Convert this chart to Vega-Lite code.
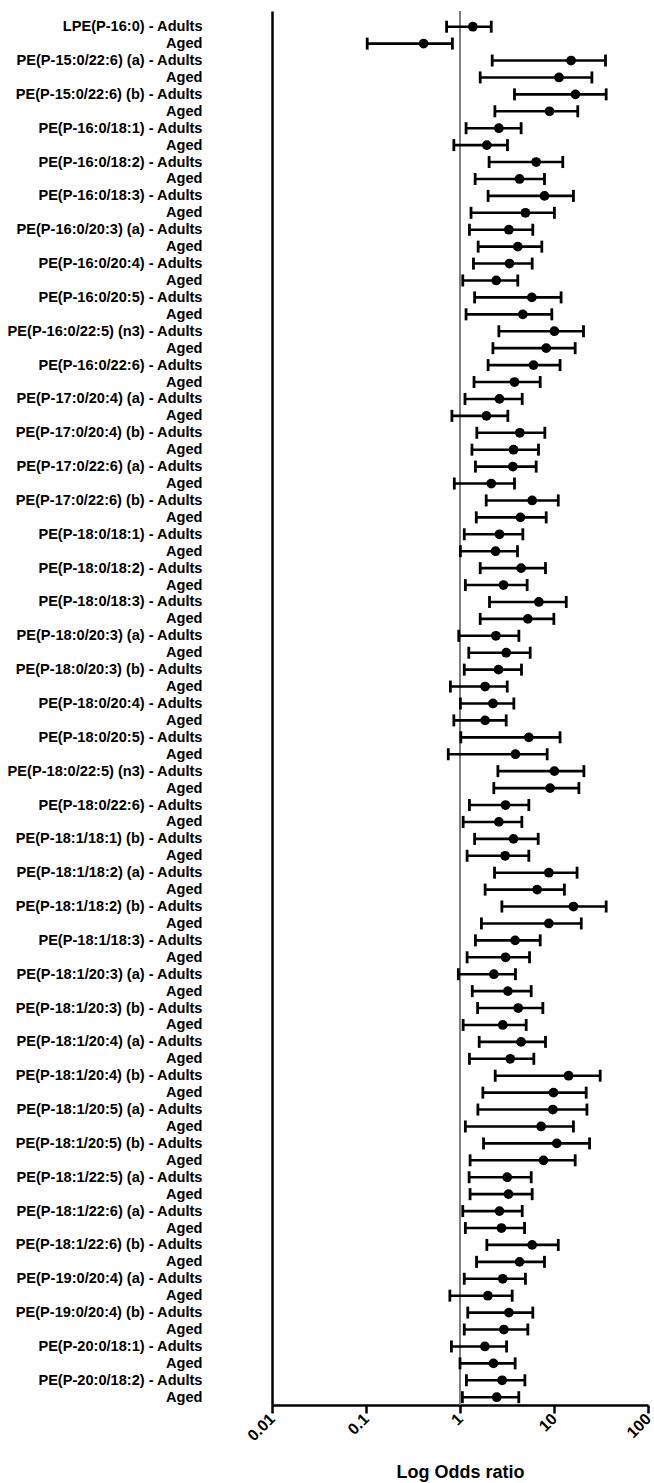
{
  "$schema": "https://vega.github.io/schema/vega-lite/v6.json",
  "autosize": "none",
  "padding": {"left": 272, "top": 11, "right": 6, "bottom": 78},
  "width": 376,
  "height": 1394,
  "background": "white",
  "config": {
    "view": {"stroke": null},
    "axis": {
      "domainColor": "black",
      "domainWidth": 2.5,
      "labelFont": "Liberation Sans",
      "labelFontWeight": "bold",
      "labelColor": "black",
      "titleFont": "Liberation Sans",
      "titleFontWeight": "bold",
      "titleColor": "black",
      "grid": false
    }
  },
  "data": {
    "values": [
      {"row": "LPE(P-16:0) - Adults", "or": 1.37, "lo": 0.72, "hi": 2.15},
      {"row": "LPE(P-16:0) - Aged", "or": 0.41, "lo": 0.103, "hi": 0.83},
      {"row": "PE(P-15:0/22:6) (a) - Adults", "or": 15.2, "lo": 2.2, "hi": 35.3},
      {"row": "PE(P-15:0/22:6) (a) - Aged", "or": 11.3, "lo": 1.64, "hi": 25.3},
      {"row": "PE(P-15:0/22:6) (b) - Adults", "or": 16.9, "lo": 3.8, "hi": 35.9},
      {"row": "PE(P-15:0/22:6) (b) - Aged", "or": 8.96, "lo": 2.35, "hi": 17.9},
      {"row": "PE(P-16:0/18:1) - Adults", "or": 2.59, "lo": 1.16, "hi": 4.47},
      {"row": "PE(P-16:0/18:1) - Aged", "or": 1.93, "lo": 0.86, "hi": 3.2},
      {"row": "PE(P-16:0/18:2) - Adults", "or": 6.46, "lo": 2.04, "hi": 12.4},
      {"row": "PE(P-16:0/18:2) - Aged", "or": 4.3, "lo": 1.45, "hi": 7.92},
      {"row": "PE(P-16:0/18:3) - Adults", "or": 7.92, "lo": 1.99, "hi": 16.1},
      {"row": "PE(P-16:0/18:3) - Aged", "or": 4.97, "lo": 1.31, "hi": 10.1},
      {"row": "PE(P-16:0/20:3) (a) - Adults", "or": 3.31, "lo": 1.26, "hi": 5.95},
      {"row": "PE(P-16:0/20:3) (a) - Aged", "or": 4.12, "lo": 1.56, "hi": 7.42},
      {"row": "PE(P-16:0/20:4) - Adults", "or": 3.36, "lo": 1.39, "hi": 5.86},
      {"row": "PE(P-16:0/20:4) - Aged", "or": 2.43, "lo": 1.07, "hi": 4.12},
      {"row": "PE(P-16:0/20:5) - Adults", "or": 5.81, "lo": 1.43, "hi": 11.9},
      {"row": "PE(P-16:0/20:5) - Aged", "or": 4.66, "lo": 1.16, "hi": 9.48},
      {"row": "PE(P-16:0/22:5) (n3) - Adults", "or": 10.1, "lo": 2.59, "hi": 20.6},
      {"row": "PE(P-16:0/22:5) (n3) - Aged", "or": 8.26, "lo": 2.24, "hi": 16.8},
      {"row": "PE(P-16:0/22:6) - Adults", "or": 6.05, "lo": 1.99, "hi": 11.6},
      {"row": "PE(P-16:0/22:6) - Aged", "or": 3.8, "lo": 1.41, "hi": 7.13},
      {"row": "PE(P-17:0/20:4) (a) - Adults", "or": 2.63, "lo": 1.13, "hi": 4.59},
      {"row": "PE(P-17:0/20:4) (a) - Aged", "or": 1.91, "lo": 0.82, "hi": 3.23},
      {"row": "PE(P-17:0/20:4) (b) - Adults", "or": 4.33, "lo": 1.51, "hi": 7.99},
      {"row": "PE(P-17:0/20:4) (b) - Aged", "or": 3.71, "lo": 1.34, "hi": 6.84},
      {"row": "PE(P-17:0/22:6) (a) - Adults", "or": 3.65, "lo": 1.46, "hi": 6.46},
      {"row": "PE(P-17:0/22:6) (a) - Aged", "or": 2.15, "lo": 0.87, "hi": 3.8},
      {"row": "PE(P-17:0/22:6) (b) - Adults", "or": 5.86, "lo": 1.9, "hi": 11.1},
      {"row": "PE(P-17:0/22:6) (b) - Aged", "or": 4.4, "lo": 1.49, "hi": 8.26},
      {"row": "PE(P-18:0/18:1) - Adults", "or": 2.63, "lo": 1.11, "hi": 4.66},
      {"row": "PE(P-18:0/18:1) - Aged", "or": 2.39, "lo": 1.01, "hi": 4.09},
      {"row": "PE(P-18:0/18:2) - Adults", "or": 4.47, "lo": 1.64, "hi": 8.12},
      {"row": "PE(P-18:0/18:2) - Aged", "or": 2.9, "lo": 1.14, "hi": 5.18},
      {"row": "PE(P-18:0/18:3) - Adults", "or": 6.9, "lo": 2.06, "hi": 13.5},
      {"row": "PE(P-18:0/18:3) - Aged", "or": 5.27, "lo": 1.64, "hi": 9.96},
      {"row": "PE(P-18:0/20:3) (a) - Adults", "or": 2.41, "lo": 0.97, "hi": 4.23},
      {"row": "PE(P-18:0/20:3) (a) - Aged", "or": 3.1, "lo": 1.24, "hi": 5.58},
      {"row": "PE(P-18:0/20:3) (b) - Adults", "or": 2.57, "lo": 1.11, "hi": 4.51},
      {"row": "PE(P-18:0/20:3) (b) - Aged", "or": 1.85, "lo": 0.79, "hi": 3.18},
      {"row": "PE(P-18:0/20:4) - Adults", "or": 2.24, "lo": 1.01, "hi": 3.74},
      {"row": "PE(P-18:0/20:4) - Aged", "or": 1.85, "lo": 0.86, "hi": 3.1},
      {"row": "PE(P-18:0/20:5) - Adults", "or": 5.4, "lo": 1.02, "hi": 11.6},
      {"row": "PE(P-18:0/20:5) - Aged", "or": 3.89, "lo": 0.75, "hi": 8.46},
      {"row": "PE(P-18:0/22:5) (n3) - Adults", "or": 10.1, "lo": 2.53, "hi": 20.8},
      {"row": "PE(P-18:0/22:5) (n3) - Aged", "or": 9.1, "lo": 2.29, "hi": 18.4},
      {"row": "PE(P-18:0/22:6) - Adults", "or": 3.05, "lo": 1.26, "hi": 5.4},
      {"row": "PE(P-18:0/22:6) - Aged", "or": 2.59, "lo": 1.08, "hi": 4.55},
      {"row": "PE(P-18:1/18:1) (b) - Adults", "or": 3.71, "lo": 1.43, "hi": 6.79},
      {"row": "PE(P-18:1/18:1) (b) - Aged", "or": 3.02, "lo": 1.19, "hi": 5.4},
      {"row": "PE(P-18:1/18:2) (a) - Adults", "or": 8.81, "lo": 2.33, "hi": 17.6},
      {"row": "PE(P-18:1/18:2) (a) - Aged", "or": 6.62, "lo": 1.85, "hi": 12.9},
      {"row": "PE(P-18:1/18:2) (b) - Adults", "or": 16.1, "lo": 2.79, "hi": 35.9},
      {"row": "PE(P-18:1/18:2) (b) - Aged", "or": 8.81, "lo": 1.69, "hi": 19.5},
      {"row": "PE(P-18:1/18:3) - Adults", "or": 3.86, "lo": 1.46, "hi": 7.13},
      {"row": "PE(P-18:1/18:3) - Aged", "or": 3.05, "lo": 1.19, "hi": 5.49},
      {"row": "PE(P-18:1/20:3) (a) - Adults", "or": 2.29, "lo": 0.96, "hi": 3.89},
      {"row": "PE(P-18:1/20:3) (a) - Aged", "or": 3.23, "lo": 1.35, "hi": 5.72},
      {"row": "PE(P-18:1/20:3) (b) - Adults", "or": 4.16, "lo": 1.54, "hi": 7.61},
      {"row": "PE(P-18:1/20:3) (b) - Aged", "or": 2.85, "lo": 1.08, "hi": 5.06},
      {"row": "PE(P-18:1/20:4) (a) - Adults", "or": 4.47, "lo": 1.6, "hi": 8.12},
      {"row": "PE(P-18:1/20:4) (a) - Aged", "or": 3.42, "lo": 1.26, "hi": 6.1},
      {"row": "PE(P-18:1/20:4) (b) - Adults", "or": 14.3, "lo": 2.37, "hi": 31.0},
      {"row": "PE(P-18:1/20:4) (b) - Aged", "or": 9.88, "lo": 1.75, "hi": 22.0},
      {"row": "PE(P-18:1/20:5) (a) - Adults", "or": 9.72, "lo": 1.55, "hi": 22.4},
      {"row": "PE(P-18:1/20:5) (a) - Aged", "or": 7.3, "lo": 1.14, "hi": 16.1},
      {"row": "PE(P-18:1/20:5) (b) - Adults", "or": 10.7, "lo": 1.78, "hi": 23.9},
      {"row": "PE(P-18:1/20:5) (b) - Aged", "or": 7.73, "lo": 1.28, "hi": 16.8},
      {"row": "PE(P-18:1/22:5) (a) - Adults", "or": 3.18, "lo": 1.25, "hi": 5.72},
      {"row": "PE(P-18:1/22:5) (a) - Aged", "or": 3.28, "lo": 1.28, "hi": 5.86},
      {"row": "PE(P-18:1/22:6) (a) - Adults", "or": 2.63, "lo": 1.07, "hi": 4.59},
      {"row": "PE(P-18:1/22:6) (a) - Aged", "or": 2.76, "lo": 1.14, "hi": 4.86},
      {"row": "PE(P-18:1/22:6) (b) - Adults", "or": 5.86, "lo": 1.93, "hi": 11.1},
      {"row": "PE(P-18:1/22:6) (b) - Aged", "or": 4.3, "lo": 1.5, "hi": 7.92},
      {"row": "PE(P-19:0/20:4) (a) - Adults", "or": 2.85, "lo": 1.11, "hi": 4.97},
      {"row": "PE(P-19:0/20:4) (a) - Aged", "or": 1.98, "lo": 0.78, "hi": 3.59},
      {"row": "PE(P-19:0/20:4) (b) - Adults", "or": 3.31, "lo": 1.21, "hi": 5.95},
      {"row": "PE(P-19:0/20:4) (b) - Aged", "or": 2.93, "lo": 1.11, "hi": 5.27},
      {"row": "PE(P-20:0/18:1) - Adults", "or": 1.84, "lo": 0.81, "hi": 3.13},
      {"row": "PE(P-20:0/18:1) - Aged", "or": 2.27, "lo": 1.0, "hi": 3.86},
      {"row": "PE(P-20:0/18:2) - Adults", "or": 2.81, "lo": 1.17, "hi": 4.9},
      {"row": "PE(P-20:0/18:2) - Aged", "or": 2.46, "lo": 1.06, "hi": 4.22}
    ]
  },
  "layer": [
    {
      "mark": {"type": "rule", "color": "#808080", "strokeWidth": 1},
      "encoding": {
        "x": {"datum": 1, "type": "quantitative", "scale": {"type": "log", "domain": [0.01, 100], "nice": false}}
      }
    },
    {
      "mark": {"type": "rule", "color": "black", "strokeWidth": 2.6},
      "encoding": {
        "y": {
          "field": "row", "type": "nominal", "sort": null,
          "scale": {"type": "point", "padding": 0.694, "align": 0.668, "round": false},
          "axis": {
            "title": null,
            "ticks": false,
            "tickSize": 0,
            "labelPadding": 70,
            "labelFontSize": 14.6,
            "labelLimit": 400,
            "labelAlign": "right",
            "labelBaseline": "middle",
            "labelExpr": "indexof(datum.label, ' - Aged') > 0 ? 'Aged' : datum.label"
          }
        },
        "x": {
          "field": "lo", "type": "quantitative",
          "scale": {"type": "log", "domain": [0.01, 100], "nice": false},
          "axis": {
            "title": "Log Odds ratio",
            "values": [0.01, 0.1, 1, 10, 100],
            "format": "~g",
            "tickColor": "black",
            "tickWidth": 2.5,
            "tickSize": 8,
            "labelAngle": -45,
            "labelAlign": "right",
            "labelBaseline": "middle",
            "labelPadding": 3,
            "labelFontSize": 16,
            "labelFlush": false,
            "labelOverlap": false,
            "titleFontSize": 18,
            "titleY": 72,
            "titleBaseline": "alphabetic"
          }
        },
        "x2": {"field": "hi"}
      }
    },
    {
      "mark": {"type": "tick", "color": "black", "opacity": 1, "size": 12, "thickness": 2.8},
      "encoding": {
        "y": {"field": "row", "type": "nominal", "sort": null},
        "x": {"field": "lo", "type": "quantitative"}
      }
    },
    {
      "mark": {"type": "tick", "color": "black", "opacity": 1, "size": 12, "thickness": 2.8},
      "encoding": {
        "y": {"field": "row", "type": "nominal", "sort": null},
        "x": {"field": "hi", "type": "quantitative"}
      }
    },
    {
      "mark": {"type": "point", "filled": true, "color": "black", "opacity": 1, "size": 95},
      "encoding": {
        "y": {"field": "row", "type": "nominal", "sort": null},
        "x": {"field": "or", "type": "quantitative"}
      }
    }
  ]
}
